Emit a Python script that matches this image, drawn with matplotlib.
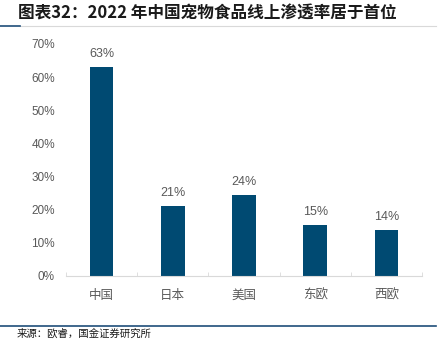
import matplotlib.pyplot as plt
from matplotlib.lines import Line2D

plt.rcParams['font.family'] = ['Noto Sans CJK SC', 'DejaVu Sans']

regions = ['中国', '日本', '美国', '东欧', '西欧']
penetration = [63, 21, 24.4, 15.3, 13.9]
yticks = [0, 10, 20, 30, 40, 50, 60, 70]

bar_color = '#004A72'
grey = '#595959'

fig = plt.figure(figsize=(4.4, 3.45), dpi=100)
ax = fig.add_axes([0.15, 0.20, 0.809, 0.6725])

x = list(range(len(regions)))
ax.bar(x, penetration, width=0.33, color=bar_color, zorder=2)
for xi, v in zip(x, penetration):
    ax.text(xi, v + 2.2, '%.0f%%' % v, ha='center', va='bottom', fontsize=9, color=grey,
            family=['Liberation Sans', 'DejaVu Sans'])

ax.set_xlim(-0.5, len(regions) - 0.5)
ax.set_ylim(0, 70)
ax.set_yticks(yticks)
ax.set_yticklabels(['%d%%' % t for t in yticks], fontsize=8.5, color=grey,
                   family=['Liberation Sans', 'DejaVu Sans'])
ax.set_xticks(x)
ax.set_xticklabels(regions, fontsize=9, color=grey)
ax.tick_params(axis='y', length=0, pad=8)
ax.tick_params(axis='x', length=0, pad=9)
# small separators between categories
ax.set_xticks([i - 0.5 for i in range(len(regions) + 1)], minor=True)
ax.tick_params(axis='x', which='minor', length=3, color='#D9D9D9', direction='in')
for s in ['top', 'right', 'left']:
    ax.spines[s].set_visible(False)
ax.spines['bottom'].set_color('#D9D9D9')

fig.text(0.04, 0.962, '图表32：2022 年中国宠物食品线上渗透率居于首位', fontsize=12,
         fontweight='bold', fontstyle='italic', color='#1a1a1a', va='center', ha='left')
fig.add_artist(Line2D([0.045, 0.99], [0.925, 0.925], color='#D9D9D9', lw=0.8))
fig.add_artist(Line2D([0.0, 0.045], [0.925, 0.925], color='#1F4E79', lw=1.2))
fig.add_artist(Line2D([0.0, 0.99], [0.055, 0.055], color='#1F4E79', lw=1.2))
fig.text(0.038, 0.032, '来源：欧睿，国金证券研究所', fontsize=7.5, color='#1a1a1a', va='center', ha='left')

fig.savefig('out.png', dpi=100)
